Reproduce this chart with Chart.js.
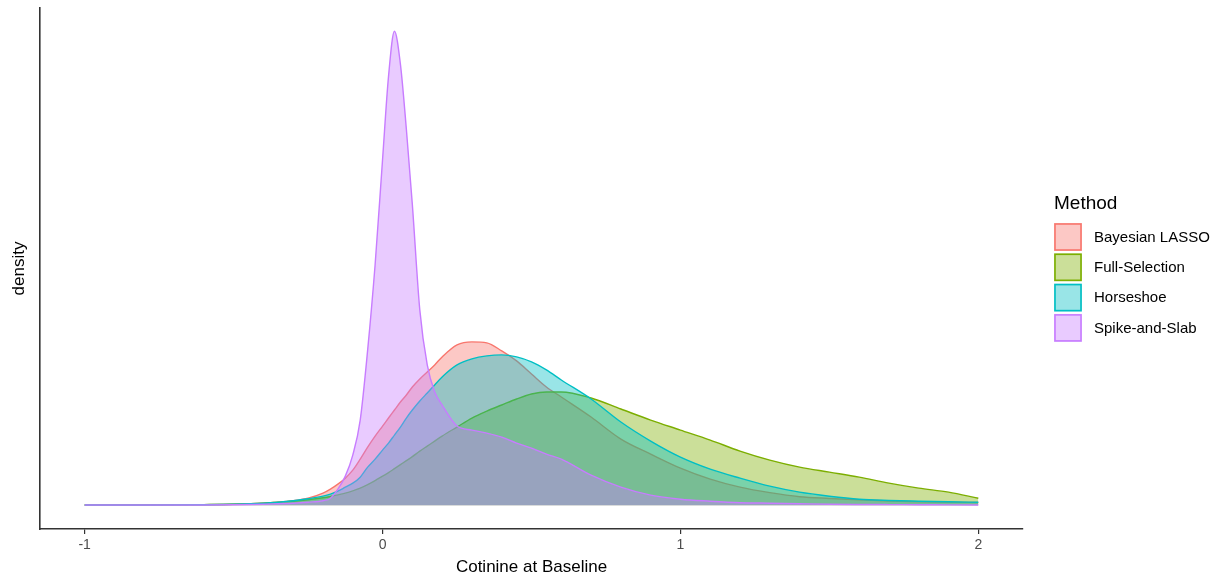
<!DOCTYPE html>
<html>
<head>
<meta charset="utf-8">
<script src="https://cdn.jsdelivr.net/npm/chart.js@4.4.0/dist/chart.umd.min.js"></script>
<style>
  html, body { margin: 0; padding: 0; background: #fff; }
  #wrap { width: 1225px; height: 582px; }
</style>
</head>
<body>
<div id="wrap"><canvas id="densityChart" width="1225" height="582"></canvas></div>
<script>
// x grid shared by all density curves (Cotinine at Baseline)
const xValues = [-1, -0.8, -0.6, -0.5, -0.4, -0.35, -0.3, -0.25, -0.2, -0.175, -0.15, -0.125, -0.1, -0.075, -0.05, -0.025,
  0, 0.02, 0.04, 0.06, 0.08, 0.1, 0.125, 0.15, 0.175, 0.2, 0.25, 0.3, 0.35, 0.4, 0.45, 0.5, 0.55, 0.6,
  0.7, 0.8, 0.9, 1.0, 1.1, 1.2, 1.3, 1.4, 1.5, 1.6, 1.7, 1.8, 1.9, 2.0];

const bayesianLasso = [0.002, 0.002, 0.004, 0.008, 0.016, 0.024, 0.036, 0.056, 0.096, 0.128, 0.168, 0.216, 0.28, 0.368, 0.464, 0.552,
  0.632, 0.696, 0.76, 0.824, 0.88, 0.944, 1.008, 1.064, 1.12, 1.184, 1.28, 1.304, 1.296, 1.232, 1.152, 1.048, 0.944, 0.864,
  0.704, 0.528, 0.408, 0.296, 0.208, 0.144, 0.1, 0.068, 0.054, 0.043, 0.034, 0.028, 0.024, 0.022];

const fullSelection = [0.002, 0.002, 0.005, 0.008, 0.016, 0.024, 0.032, 0.044, 0.06, 0.07, 0.082, 0.096, 0.114, 0.136, 0.164, 0.196,
  0.232, 0.26, 0.292, 0.324, 0.356, 0.388, 0.432, 0.472, 0.512, 0.552, 0.624, 0.696, 0.752, 0.8, 0.848, 0.888, 0.904, 0.904,
  0.856, 0.768, 0.68, 0.6, 0.52, 0.432, 0.36, 0.304, 0.264, 0.224, 0.176, 0.136, 0.104, 0.056];

const horseshoe = [0.002, 0.002, 0.004, 0.008, 0.016, 0.024, 0.036, 0.052, 0.072, 0.088, 0.112, 0.144, 0.176, 0.224, 0.304, 0.368,
  0.44, 0.496, 0.56, 0.624, 0.696, 0.76, 0.832, 0.896, 0.96, 1.024, 1.12, 1.168, 1.192, 1.2, 1.184, 1.144, 1.08, 1.0,
  0.848, 0.664, 0.512, 0.384, 0.288, 0.216, 0.152, 0.104, 0.072, 0.048, 0.038, 0.032, 0.027, 0.024];

const spikeAndSlab = [0.002, 0.002, 0.002, 0.004, 0.008, 0.012, 0.016, 0.024, 0.036, 0.056, 0.128, 0.232, 0.4, 0.68, 1.24, 1.92,
  2.76, 3.424, 3.784, 3.52, 3.0, 2.4, 1.56, 1.12, 0.904, 0.8, 0.632, 0.6, 0.576, 0.544, 0.496, 0.456, 0.408, 0.368,
  0.24, 0.144, 0.08, 0.048, 0.032, 0.02, 0.016, 0.012, 0.008, 0.006, 0.005, 0.004, 0.003, 0.002];

const methods = ['Bayesian LASSO', 'Full-Selection', 'Horseshoe', 'Spike-and-Slab'];
const xTicks = [-1, 0, 1, 2];

const lineColors = ['#F8766D', '#7CAE00', '#00BFC4', '#C77CFF'];
const fillColors = ['rgba(248,118,109,0.4)', 'rgba(124,174,0,0.4)', 'rgba(0,191,196,0.4)', 'rgba(199,124,255,0.4)'];

function toPoints(ys) {
    return xValues.map((x, i) => ({ x: x, y: ys[i] }));
}

const series = [bayesianLasso, fullSelection, horseshoe, spikeAndSlab];

// legend drawn on the right like ggplot's guide
const methodLegend = {
    id: 'methodLegend',
    afterDraw(chart) {
        const ctx = chart.ctx;
        ctx.save();
        ctx.textBaseline = 'middle';
        ctx.textAlign = 'left';
        ctx.fillStyle = '#000';
        ctx.font = '19px "Liberation Sans", Arial, sans-serif';
        ctx.fillText('Method', 1054, 204);
        ctx.font = '15px "Liberation Sans", Arial, sans-serif';
        chart.data.datasets.forEach((ds, i) => {
            const top = 222 + i * 30.3;
            ctx.fillStyle = ds.backgroundColor;
            ctx.fillRect(1054, top + 1, 28, 28);
            ctx.strokeStyle = ds.borderColor;
            ctx.lineWidth = 1.6;
            ctx.strokeRect(1055, top + 2, 26, 26);
            ctx.fillStyle = '#000';
            ctx.fillText(ds.label, 1094, top + 15.5);
        });
        ctx.restore();
    }
};

const ctx = document.getElementById('densityChart').getContext('2d');

new Chart(ctx, {
    type: 'line',
    data: {
        datasets: methods.map((m, i) => ({
            label: m,
            data: toPoints(series[i]),
            borderColor: lineColors[i],
            backgroundColor: fillColors[i],
            borderWidth: 1.4,
            fill: 'origin',
            pointRadius: 0,
            cubicInterpolationMode: 'monotone',
            order: methods.length - i
        }))
    },
    options: {
        responsive: false,
        animation: false,
        devicePixelRatio: 1,
        layout: {
            padding: { left: 0, top: 8, right: 202, bottom: 0 }
        },
        plugins: {
            legend: { display: false },
            tooltip: { enabled: false }
        },
        scales: {
            x: {
                type: 'linear',
                min: -1.15,
                max: 2.15,
                afterBuildTicks: function(scale) {
                    scale.ticks = xTicks.map(v => ({ value: v }));
                },
                afterFit: function(scale) {
                    scale.height = 53;
                },
                grid: {
                    display: true,
                    drawOnChartArea: false,
                    drawTicks: true,
                    tickLength: 5,
                    color: '#333',
                    lineWidth: 1.2
                },
                border: { display: true, color: '#333', width: 1.6 },
                ticks: {
                    color: '#4d4d4d',
                    padding: 3,
                    maxRotation: 0,
                    font: { family: '"Liberation Sans", Arial, sans-serif', size: 14 }
                },
                title: {
                    display: true,
                    text: 'Cotinine at Baseline',
                    color: '#000',
                    padding: { top: 0, bottom: 4 },
                    font: { family: '"Liberation Sans", Arial, sans-serif', size: 17 }
                }
            },
            y: {
                min: -0.19,
                max: 3.97,
                afterFit: function(scale) {
                    scale.width = 40;
                },
                grid: { display: true, drawOnChartArea: false, drawTicks: false },
                border: { display: true, color: '#333', width: 1.6 },
                ticks: { display: false },
                title: {
                    display: true,
                    text: 'density',
                    color: '#000',
                    padding: { top: 9, bottom: 0 },
                    font: { family: '"Liberation Sans", Arial, sans-serif', size: 17 }
                }
            }
        }
    },
    plugins: [methodLegend]
});
</script>
</body>
</html>
